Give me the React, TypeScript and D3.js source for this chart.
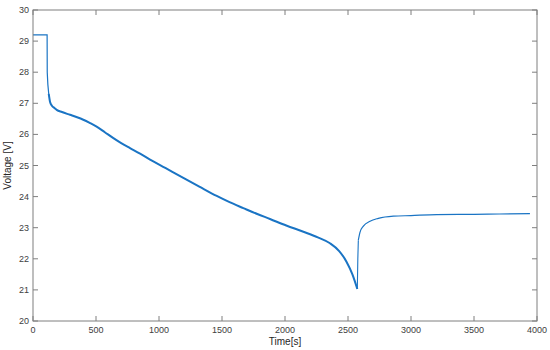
import { useEffect, useRef } from "react";
import * as d3 from "d3";

const width = 550;
const height = 350;
const marginTop = 10;
const marginBottom = 29;
const marginLeft = 33;
const marginRight = 13;

// values
const timeValues = [
  0, 112, 113, 118, 125, 135, 150, 170, 188, 230, 294, 350, 399, 450, 505, 570,
  638, 700, 770, 850, 929, 1050, 1193, 1320, 1458, 1560, 1669, 1780, 1881, 2010,
  2146, 2260, 2357, 2430, 2489, 2535, 2574, 2578, 2582, 2595, 2622, 2675, 2741,
  2860, 3000, 3204, 3500, 3700, 3944,
];
const voltageValues = [
  29.2, 29.2, 28.0, 27.6, 27.3, 27.05, 26.92, 26.85, 26.79, 26.72, 26.63, 26.55,
  26.47, 26.37, 26.25, 26.07, 25.88, 25.72, 25.56, 25.38, 25.19, 24.92, 24.6,
  24.32, 24.02, 23.82, 23.63, 23.44, 23.28, 23.07, 22.87, 22.69, 22.5, 22.25,
  21.9, 21.5, 21.03, 22.0, 22.6, 22.85, 23.05, 23.21, 23.3, 23.37, 23.39, 23.42,
  23.43, 23.44, 23.45,
];
const xTicks = [0, 500, 1000, 1500, 2000, 2500, 3000, 3500, 4000];
const yTicks = [20, 21, 22, 23, 24, 25, 26, 27, 28, 29, 30];

const lineColor = "#1a74c4";
const axisColor = "#7f7f7f";
const textColor = "#404040";

const App = () => {
  const ref = useRef<SVGSVGElement>(null);

  useEffect(() => {
    const svg = d3.select(ref.current);
    svg.selectAll("*").remove();

    const x = d3
      .scaleLinear()
      .domain([0, 4000])
      .range([marginLeft, width - marginRight]);
    const y = d3
      .scaleLinear()
      .domain([20, 30])
      .range([height - marginBottom, marginTop]);

    const data = timeValues.map((t, i) => ({ t, v: voltageValues[i] }));
    const line = d3
      .line<{ t: number; v: number }>()
      .x((d) => x(d.t))
      .y((d) => y(d.v));
    const smooth = d3
      .line<{ t: number; v: number }>()
      .x((d) => x(d.t))
      .y((d) => y(d.v))
      .curve(d3.curveMonotoneX);

    // the discharge part is noisy in the original, so it reads thicker
    const rest = data.filter((d) => d.t <= 125);
    const discharge = data.filter((d) => d.t >= 125 && d.t <= 2574);
    const recovery = data.filter((d) => d.t >= 2574 && d.t <= 2582);
    const tail = data.filter((d) => d.t >= 2582);

    const g = svg.append("g").attr("fill", "none").attr("stroke", lineColor);
    g.append("path").attr("d", line(rest)).attr("stroke-width", 1.2);
    g.append("path")
      .attr("d", smooth(discharge))
      .attr("stroke-width", 2)
      .attr("stroke-linejoin", "round");
    g.append("path").attr("d", line(recovery)).attr("stroke-width", 1.1);
    g.append("path").attr("d", smooth(tail)).attr("stroke-width", 1.2);

    // box
    const x0 = marginLeft;
    const x1 = width - marginRight;
    const y0 = height - marginBottom;
    const y1 = marginTop;
    svg
      .append("rect")
      .attr("x", x0)
      .attr("y", y1)
      .attr("width", x1 - x0)
      .attr("height", y0 - y1)
      .attr("fill", "none")
      .attr("stroke", axisColor)
      .attr("stroke-width", 1);

    const tl = 5;
    const ticks = svg.append("g").attr("stroke", axisColor);
    xTicks.forEach((t) => {
      ticks.append("line").attr("x1", x(t)).attr("x2", x(t)).attr("y1", y0).attr("y2", y0 - tl);
      ticks.append("line").attr("x1", x(t)).attr("x2", x(t)).attr("y1", y1).attr("y2", y1 + tl);
    });
    yTicks.forEach((v) => {
      ticks.append("line").attr("x1", x0).attr("x2", x0 + tl).attr("y1", y(v)).attr("y2", y(v));
      ticks.append("line").attr("x1", x1).attr("x2", x1 - tl).attr("y1", y(v)).attr("y2", y(v));
    });

    const labels = svg
      .append("g")
      .attr("font-family", "Liberation Sans, Arial, sans-serif")
      .attr("font-size", 9)
      .attr("fill", textColor);
    labels
      .selectAll(".xt")
      .data(xTicks)
      .join("text")
      .attr("x", (d) => x(d))
      .attr("y", y0 + 12)
      .attr("text-anchor", "middle")
      .text((d) => d);
    labels
      .selectAll(".yt")
      .data(yTicks)
      .join("text")
      .attr("x", x0 - 4)
      .attr("y", (d) => y(d) + 3)
      .attr("text-anchor", "end")
      .text((d) => d);

    svg
      .append("text")
      .attr("x", (x0 + x1) / 2)
      .attr("y", y0 + 24)
      .attr("text-anchor", "middle")
      .attr("font-family", "Liberation Sans, Arial, sans-serif")
      .attr("font-size", 10)
      .attr("fill", "#262626")
      .text("Time[s]");
    svg
      .append("text")
      .attr("transform", `translate(${x0 - 22},${(y0 + y1) / 2}) rotate(-90)`)
      .attr("text-anchor", "middle")
      .attr("font-family", "Liberation Sans, Arial, sans-serif")
      .attr("font-size", 10)
      .attr("fill", "#262626")
      .text("Voltage [V]");
  }, []);

  return (
    <svg
      ref={ref}
      width={width}
      height={height}
      style={{ position: "absolute", left: 0, top: 0, background: "#fff" }}
    />
  );
};

export default App;
